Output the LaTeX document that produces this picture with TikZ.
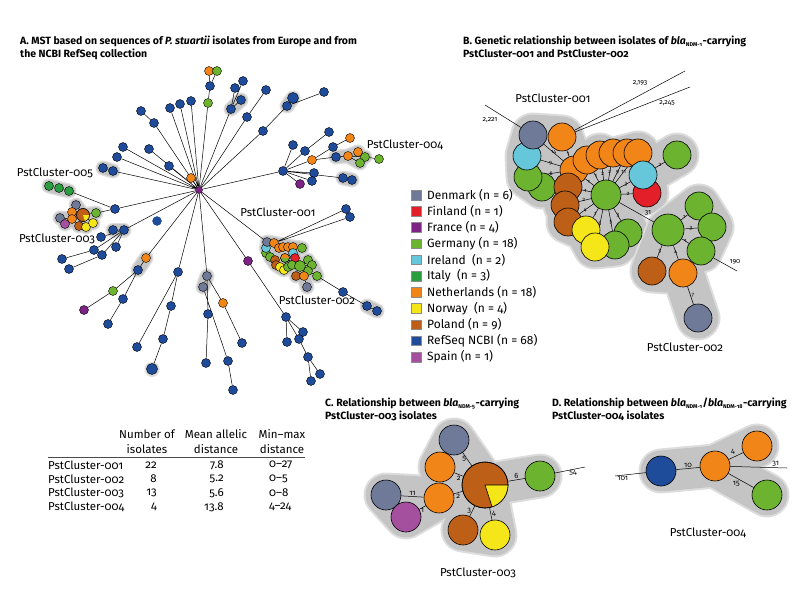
\documentclass[tikz,border=0pt]{standalone}
\usepackage{fontspec}
\setmainfont{Fira Sans}[Numbers=OldStyle]
\newfontfamily\titlefont{Fira Sans}[Numbers=OldStyle]
\usepackage{tikz}
\usetikzlibrary{positioning}

\definecolor{denmark}{HTML}{6F7A98}
\definecolor{finland}{HTML}{E3202A}
\definecolor{france}{HTML}{7D2385}
\definecolor{germany}{HTML}{6CB42F}
\definecolor{ireland}{HTML}{66C7DA}
\definecolor{italy}{HTML}{2A9D3E}
\definecolor{netherlands}{HTML}{F28518}
\definecolor{norway}{HTML}{F5E61A}
\definecolor{poland}{HTML}{BE5F17}
\definecolor{refseq}{HTML}{1F4C9A}
\definecolor{spain}{HTML}{A5509E}
\definecolor{hullgrey}{HTML}{C4C4C4}
\definecolor{rimgrey}{HTML}{DDDDDD}

\pgfdeclarelayer{hulls}
\pgfdeclarelayer{links}
\pgfsetlayers{hulls,links,main}

\newcommand{\blasub}[1]{\textit{bla}\textsubscript{\fontsize{5.5}{5.5}\selectfont #1}}

\begin{document}
\begin{tikzpicture}[x=1pt, y=-1pt,
    dot/.style={circle, draw, line width=0.4pt, inner sep=0pt, minimum size=9pt},
    ball/.style={circle, draw, line width=0.6pt, inner sep=0pt, minimum size=28pt},
    link/.style={line width=0.5pt},
    halo/.style={preaction={draw=rimgrey, line width=15pt, line cap=round, line join=round},
        draw=hullgrey, line width=12pt, line cap=round, line join=round},
    hull/.style={preaction={draw=rimgrey, line width=45pt, line cap=round, line join=round},
        draw=hullgrey, line width=41pt, line cap=round, line join=round},
    lbl/.style={font=\fontsize{11.5}{15}\selectfont, inner sep=1pt},
    ttl/.style={font=\titlefont\bfseries\fontsize{10.5}{12.5}\selectfont, align=left, anchor=north west, inner sep=0pt},
    elab/.style={font=\fontsize{5.5}{5.5}\selectfont, inner sep=0.8pt},
    dlab/.style={font=\fontsize{7}{7}\selectfont, inner sep=0.8pt},
    clab/.style={font=\fontsize{7.5}{8}\selectfont, inner sep=1pt},
    key/.style={draw=black!45, line width=0.4pt, minimum size=9.5pt, inner sep=0pt},
    keytext/.style={font=\fontsize{12}{14}\selectfont, anchor=west, inner sep=0pt}]
\useasboundingbox (0,0) rectangle (800,604);

% ---------------- titles ----------------
\node[ttl] (titleA) at (20,36) {A. MST based on sequences of \textit{P. stuartii} isolates from Europe and from\\the NCBI RefSeq collection};
\node[ttl] (titleB) at (463,36) {B. Genetic relationship between isolates of \blasub{NDM-1}-carrying\\PstCluster-001 and PstCluster-002};
\node[ttl] (titleC) at (325,398) {C. Relationship between \blasub{NDM-5}-carrying\\PstCluster-003 isolates};
\node[ttl] (titleD) at (552,398) {D. Relationship between \blasub{NDM-1}/\blasub{NDM-18}-carrying\\PstCluster-004 isolates};

% ---------------- A: minimum spanning tree ----------------
% hub
\node[dot, fill=france, minimum size=7pt] (hub) at (199,190) {};
% upper branches
\node[dot, fill=germany] (a1) at (208,103) {};
\node[dot, fill=refseq] (a2) at (210,86) {};
\node[dot, fill=netherlands] (a3) at (209,71) {};
\node[dot, fill=germany] (a4) at (217,71) {};
\node[dot, fill=refseq] (b1) at (231,109) {};
\node[dot, fill=refseq] (b2) at (241,100) {};
\node[dot, fill=refseq] (b3) at (235,88) {};
\node[dot, fill=refseq] (b4) at (243,81) {};
\node[dot, fill=refseq] (c1) at (247,117) {};
\node[dot, fill=refseq] (c2) at (266,90) {};
\node[dot, fill=refseq] (d1) at (263,131) {};
\node[dot, fill=refseq] (d2) at (287,106) {};
\node[dot, fill=refseq, minimum size=11pt] (d3) at (293,98) {};
\node[dot, fill=refseq] (d4) at (324,92) {};
\node[dot, fill=refseq] (e1) at (191,101) {};
\node[dot, fill=refseq] (e2) at (180,104) {};
\node[dot, fill=refseq] (e3) at (170,108) {};
\node[dot, fill=refseq] (f1) at (154,123) {};
\node[dot, fill=refseq] (f2) at (141,111) {};
\node[dot, fill=refseq] (g1) at (123,147) {};
\node[dot, fill=refseq] (g2) at (149,149) {};
\node[dot, fill=refseq] (g3) at (117,157) {};
\node[dot, fill=refseq] (g4) at (169,166) {};
\node[dot, fill=netherlands] (g5) at (191,178) {};
\node[dot, fill=refseq] (h1) at (113,171) {};
\node[dot, fill=refseq] (h2) at (103,168) {};
% PstCluster-005
\node[dot, fill=italy] (i1) at (49,186) {};
\node[dot, fill=italy] (i2) at (59,188) {};
\node[dot, fill=italy] (i3) at (69,191) {};
\node[dot, fill=refseq] (j1) at (115,209) {};
% PstCluster-003
\node[dot, fill=denmark] (k1) at (76,205) {};
\node[dot, fill=netherlands] (k2) at (72,212) {};
\node[dot, fill=germany] (k4) at (96,213) {};
\node[dot, fill=denmark] (k5) at (60,218) {};
\node[dot, fill=netherlands] (k6) at (72,219) {};
\node[dot, fill=spain] (k7) at (65,224) {};
\node[dot, fill=poland] (k8) at (79,226) {};
\node[dot, fill=norway] (k9) at (86,227) {};
\node[dot, fill=norway] (k10) at (93,223) {};
\node[dot, fill=poland, minimum size=13pt] (k3) at (83,215) {};
\fill[norway] (k3.center) -- ++(0:6.5) arc[start angle=0, end angle=72, radius=6.5] -- cycle;
\draw[line width=0.4pt] (k3) circle[radius=6.5];
\node[dot, fill=refseq, draw=refseq] (iso) at (157,221) {};
% left-lower branches
\node[dot, fill=refseq] (l1) at (124,230) {};
\node[dot, fill=refseq] (l2) at (113,230) {};
\node[dot, fill=refseq] (l3) at (101,237) {};
\node[dot, fill=refseq] (l4) at (94,250) {};
\node[dot, fill=refseq] (l5) at (102,255) {};
\node[dot, fill=refseq] (l6) at (116,247) {};
\node[dot, fill=refseq] (l7) at (62,259) {};
\node[dot, fill=refseq] (l8) at (69,269) {};
\node[dot, fill=netherlands] (m1) at (146,258) {};
\node[dot, fill=refseq] (m2) at (138,270) {};
\node[dot, fill=germany] (m3) at (113,291) {};
\node[dot, fill=france] (m4) at (84,310) {};
\node[dot, fill=refseq] (m5) at (123,299) {};
\node[dot, fill=refseq] (m6) at (108,324) {};
\node[dot, fill=refseq] (n1) at (178,272) {};
\node[dot, fill=refseq] (n2) at (171,306) {};
\node[dot, fill=refseq] (n3) at (163,339) {};
\node[dot, fill=refseq, minimum size=11pt] (n4) at (152,369) {};
\node[dot, fill=refseq] (n5) at (137,347) {};
\node[dot, fill=denmark] (o1) at (207,276) {};
\node[dot, fill=denmark] (o2) at (203,287) {};
\node[dot, fill=refseq] (o3) at (208,314) {};
\node[dot, fill=refseq] (o4) at (206,363) {};
\node[dot, fill=netherlands] (o5) at (223,303) {};
\node[dot, fill=refseq] (o6) at (242,343) {};
\node[dot, fill=refseq] (o7) at (228,361) {};
\node[dot, fill=refseq] (o8) at (233,390) {};
\node[dot, fill=france] (p1) at (248,261) {};
\node[dot, fill=refseq] (p2) at (286,317) {};
\node[dot, fill=refseq] (p3) at (303,332) {};
\node[dot, fill=refseq] (p4) at (287,342) {};
\node[dot, fill=refseq] (p5) at (299,339) {};
\node[dot, fill=refseq] (p6) at (308,357) {};
\node[dot, fill=refseq] (p7) at (311,381) {};
\node[dot, fill=refseq] (p8) at (320,374) {};
% right branches and PstCluster-004
\node[dot, fill=refseq] (q1) at (283,171) {};
\node[dot, fill=refseq] (q2) at (293,145) {};
\node[dot, fill=refseq] (q3) at (305,151) {};
\node[dot, fill=refseq] (q4) at (329,132) {};
\node[dot, fill=netherlands] (q5) at (312,160) {};
\node[dot, fill=refseq] (q6) at (333,147) {};
\node[dot, fill=netherlands] (q7) at (350,138) {};
\node[dot, fill=refseq] (q8) at (336,157) {};
\node[dot, fill=netherlands] (q9) at (348,156) {};
\node[dot, fill=netherlands] (q10) at (358,152) {};
\node[dot, fill=germany] (q11) at (365,157) {};
\node[dot, fill=germany] (q12) at (360,163) {};
\node[dot, fill=germany] (q13) at (379,159) {};
\node[dot, fill=refseq] (q14) at (314,173) {};
\node[dot, fill=refseq] (q15) at (312,181) {};
\node[dot, fill=france] (q16) at (300,184) {};
\node[dot, fill=refseq] (q17) at (343,178) {};
\node[dot, fill=refseq] (q18) at (352,180) {};
% PstCluster-001
\node[dot, fill=refseq] (s1) at (346,209) {};
\node[dot, fill=refseq] (s2) at (350,217) {};
\node[dot, fill=germany] (r8) at (266,253) {};
\node[dot, fill=germany] (r9) at (270,257) {};
\node[dot, fill=ireland] (r10) at (266,248) {};
\node[dot, fill=denmark] (r1) at (267,242) {};
\node[dot, fill=netherlands] (r2) at (274,243) {};
\node[dot, fill=netherlands] (r3) at (279,248) {};
\node[dot, fill=netherlands] (r4) at (283,247) {};
\node[dot, fill=netherlands] (r5) at (288,247) {};
\node[dot, fill=netherlands] (r6) at (293,247) {};
\node[dot, fill=germany] (r7) at (302,248) {};
\node[dot, fill=ireland] (r11) at (293,253) {};
\node[dot, fill=finland] (r12) at (295,258) {};
\node[dot, fill=poland] (r13) at (275,260) {};
\node[dot, fill=poland] (r14) at (276,265) {};
\node[dot, fill=norway] (r15) at (280,267) {};
\node[dot, fill=norway] (r16) at (284,270) {};
\node[dot, fill=germany] (r17) at (288,267) {};
\node[dot, fill=germany] (r18) at (292,265) {};
\node[dot, fill=germany] (rc) at (285,258) {};
\fill[netherlands] (rc.center) ++(180:4.5) arc[start angle=180, end angle=360, radius=4.5] -- cycle;
\draw[line width=0.4pt] (rc) circle[radius=4.5];
% PstCluster-002
\node[dot, fill=germany] (t2) at (308,260) {};
\node[dot, fill=germany] (t3) at (312,265) {};
\node[dot, fill=germany] (t4) at (308,271) {};
\node[dot, fill=germany, minimum size=11pt] (t1) at (300,266) {};
\node[dot, fill=poland] (t5) at (296,276) {};
\node[dot, fill=netherlands] (t6) at (304,276) {};
\node[dot, fill=denmark] (t7) at (307,287) {};
\node[dot, fill=germany] (t8) at (317,276) {};
\node[dot, fill=refseq] (u1) at (343,292) {};
\node[dot, fill=refseq] (u2) at (367,306) {};
\node[dot, fill=refseq] (u3) at (377,311) {};
% cluster labels
\node[lbl] (lab005) at (55,173) {PstCluster-005};
\node[lbl] (lab003) at (57,239) {PstCluster-003};
\node[lbl] (lab001) at (278,212) {PstCluster-001};
\node[lbl] (lab002) at (317,300) {PstCluster-002};
\node[lbl] (lab004) at (405,145) {PstCluster-004};

\begin{pgfonlayer}{hulls}
    \draw[halo] (b1.center) -- (b2.center);
    \draw[halo] (d2.center) -- (d3.center);
    \draw[halo] (h1.center) -- (h2.center);
    \draw[halo] (i1.center) -- (i3.center);
    \draw[halo] (k5.center) -- (k6.center) -- (k3.center) -- (k4.center)
        (k1.center) -- (k3.center) -- (k9.center) (k7.center) -- (k6.center) -- (k8.center) -- (k10.center);
    \draw[halo] (l1.center) -- (l2.center);
    \draw[halo] (m1.center) -- (m2.center);
    \draw[halo] (n4.center) -- ++(0.1,0);
    \draw[halo] (o1.center) -- (o2.center);
    \draw[halo] (q8.center) -- (q9.center) -- (q10.center) (q9.center) -- (q11.center) (q9.center) -- (q12.center);
    \draw[halo] (q17.center) -- (q18.center);
    \draw[halo] (u2.center) -- (u3.center);
    \draw[halo] (r1.center) -- (r2.center) -- (r6.center) -- (r7.center)
        (r1.center) -- (r9.center) -- (r14.center) -- (r16.center) -- (r18.center) -- (r12.center) -- (r6.center)
        (r3.center) -- (rc.center) -- (r15.center) (r10.center) -- (rc.center)
        (t2.center) -- (t1.center) -- (t5.center) (t1.center) -- (t3.center) -- (t8.center) (t1.center) -- (t6.center) -- (t7.center);
\end{pgfonlayer}

\begin{pgfonlayer}{links}
    \draw[link] (hub) -- (a1) (a1) -- (a2) (a2) -- (a3) (a2) -- (a4);
    \draw[link] (hub) -- (b1) (b1) -- (b2) (b1) -- (b3) (b1) -- (b4);
    \draw[link] (hub) -- (c1) (c1) -- (c2);
    \draw[link] (hub) -- (d1) (d1) -- (d2) (d2) -- (d3) (d2) -- (d4);
    \draw[link] (hub) -- (e1) (hub) -- (e2) (hub) -- (e3);
    \draw[link] (hub) -- (f1) (f1) -- (f2);
    \draw[link] (hub) -- (g1) (hub) -- (g2) (hub) -- (g3) (hub) -- (g4) (hub) -- (g5);
    \draw[link] (hub) -- (h1) (h1) -- (h2);
    \draw[link] (hub) -- (j1) (j1) -- (i3) (i3) -- (i2) (i2) -- (i1) (j1) -- (k4);
    \draw[link] (k3) -- (k1) (k3) -- (k2) (k3) -- (k4) (k3) -- (k6) (k3) -- (k8) (k3) -- (k9) (k3) -- (k10)
        (k6) -- (k5) (k6) -- (k7);
    \draw[link] (hub) -- (l1) (l1) -- (l2) (l1) -- (l3) (l1) -- (l4) (l1) -- (l5) (l1) -- (l6)
        (l4) -- (l7) (l5) -- (l8);
    \draw[link] (hub) -- (m1) (m1) -- (m2) (m2) -- (m3) (m3) -- (m4) (m2) -- (m5) (m5) -- (m6);
    \draw[link] (hub) -- (n1) (n1) -- (n2) (n2) -- (n3) (n3) -- (n4) (n1) -- (n5);
    \draw[link] (hub) -- (o1) (o1) -- (o2) (o1) -- (o3) (o3) -- (o4) (o1) -- (o5) (o5) -- (o6)
        (o2) -- (o7) (o7) -- (o8);
    \draw[link] (hub) -- (p1) (p1) -- (p2) (p2) -- (p3) (p2) -- (p4) (p2) -- (p5) (p5) -- (p6)
        (p6) -- (p7) (p6) -- (p8);
    \draw[link] (hub) -- (q1) (q1) -- (q2) (q1) -- (q3) (q3) -- (q4) (q1) -- (q5) (q5) -- (q6)
        (q6) -- (q7) (q5) -- (q8) (q8) -- (q9) (q9) -- (q10) (q9) -- (q11) (q9) -- (q12)
        (q11) -- (q13) (q1) -- (q14) (q1) -- (q15) (q1) -- (q16) (q1) -- (q17) (q17) -- (q18);
    \draw[link] (hub) -- (r1) (r2) -- (s1) (r2) -- (s2);
    \draw[link] (rc) -- (t1) (t1) -- (t2) (t1) -- (t3) (t1) -- (t4) (t1) -- (t5) (t1) -- (t6)
        (t6) -- (t7) (t4) -- (t8) (t8) -- (u1) (u1) -- (u2) (u2) -- (u3);
\end{pgfonlayer}

% ---------------- legend ----------------
\node[key, fill=denmark] (kden) at (416,195) {};
\node[keytext, right=6pt of kden] (tden) {Denmark (n = 6)};
\node[key, fill=finland] (kfin) at (416,211.2) {};
\node[keytext, right=6pt of kfin] (tfin) {Finland (n = 1)};
\node[key, fill=france] (kfra) at (416,227.4) {};
\node[keytext, right=6pt of kfra] (tfra) {France (n = 4)};
\node[key, fill=germany] (kger) at (416,243.6) {};
\node[keytext, right=6pt of kger] (tger) {Germany (n = 18)};
\node[key, fill=ireland] (kire) at (416,259.8) {};
\node[keytext, right=6pt of kire] (tire) {Ireland\ \ (n = 2)};
\node[key, fill=italy] (kita) at (416,276) {};
\node[keytext, right=6pt of kita] (tita) {Italy\ \ (n = 3)};
\node[key, fill=netherlands] (knet) at (416,292.2) {};
\node[keytext, right=6pt of knet] (tnet) {Netherlands (n = 18)};
\node[key, fill=norway] (knor) at (416,308.4) {};
\node[keytext, right=6pt of knor] (tnor) {Norway\ \ (n = 4)};
\node[key, fill=poland] (kpol) at (416,324.6) {};
\node[keytext, right=6pt of kpol] (tpol) {Poland (n = 9)};
\node[key, fill=refseq] (kref) at (416,340.8) {};
\node[keytext, right=6pt of kref] (tref) {RefSeq NCBI (n = 68)};
\node[key, fill=spain] (kspa) at (416,357) {};
\node[keytext, right=6pt of kspa] (tspa) {Spain (n = 1)};

% ---------------- B: PstCluster-001 and -002 ----------------
\node[ball, fill=germany] (bg2) at (542,187) {};
\node[ball, fill=germany] (bg1) at (528,177) {};
\node[ball, fill=ireland] (bl1) at (527,156) {};
\node[ball, fill=denmark] (bgr) at (533,135) {};
\node[ball, fill=netherlands] (bo1) at (562,137) {};
\node[ball, fill=netherlands] (bo2) at (574,170) {};
\node[ball, fill=netherlands] (bo3) at (587,160) {};
\node[ball, fill=netherlands] (bo4) at (600,155) {};
\node[ball, fill=netherlands] (bo5) at (613,153) {};
\node[ball, fill=netherlands] (bo6) at (627,153) {};
\node[ball, fill=netherlands] (bo7) at (638,153) {};
\node[ball, fill=finland] (bred) at (647,193) {};
\node[ball, fill=ireland] (bl2) at (643,175) {};
\node[ball, fill=germany] (bfar) at (677,155) {};
\node[ball, fill=poland] (bb1) at (568,187) {};
\node[ball, fill=poland] (bb2) at (565,205) {};
\node[ball, fill=poland] (bb3) at (568,222) {};
\node[ball, fill=germany] (bg4) at (628,233) {};
\node[ball, fill=norway] (by1) at (586,230) {};
\node[ball, fill=germany] (bg3) at (615,245) {};
\node[ball, fill=norway] (by2) at (595,247) {};
\node[ball, fill=germany, minimum size=30pt] (bc) at (606,195) {};
% PstCluster-002
\node[ball, fill=germany, minimum size=32pt] (bk) at (668,230) {};
\node[ball, fill=germany] (bk1) at (699,206) {};
\node[ball, fill=germany] (bk2) at (712,227) {};
\node[ball, fill=germany] (bk3) at (701,251) {};
\node[ball, fill=poland] (bkb) at (652,271) {};
\node[ball, fill=netherlands] (bko) at (683,273) {};
\node[ball, fill=denmark] (bkg) at (698,318) {};
% loose ends
\coordinate (bx1) at (485,105);
\coordinate (bx2) at (685,71);
\coordinate (bx3) at (690,87);
\coordinate (bx4) at (737,271);
\node[dlab] (d2221) at (490,120) {2,221};
\node[dlab] (d2193) at (640,83) {2,193};
\node[dlab] (d2245) at (667,103) {2,245};
\node[dlab] (d190) at (735,262) {190};
\node[dlab] (d31) at (648,213) {31};
\node[lbl] (labB1) at (553,98) {PstCluster-001};
\node[lbl] (labB2) at (685,347) {PstCluster-002};

\begin{pgfonlayer}{hulls}
    \draw[hull] (bgr.center) -- (bo1.center) -- (bo2.center) -- (bgr.center) -- (bl1.center) -- (bg1.center) -- (bg2.center) -- (bo2.center)
        (bo2.center) -- (bo7.center) -- (bl2.center) -- (bfar.center) (bl2.center) -- (bred.center) -- (bc.center)
        (bo2.center) -- (bb1.center) -- (bb3.center) -- (by1.center) -- (by2.center) -- (bg3.center) -- (bg4.center) -- (bc.center)
        (bc.center) -- (bb2.center) (bc.center) -- (by2.center) (bc.center) -- (bo4.center) (bc.center) -- (bo2.center);
    \draw[hull] (bk.center) -- (bk1.center) -- (bk2.center) -- (bk3.center) -- (bk.center) -- (bkb.center) -- (bko.center) -- (bk.center)
        (bko.center) -- (bkg.center);
\end{pgfonlayer}

\begin{pgfonlayer}{links}
    \draw[link] (bgr) -- (bx1) (bo1) -- (bx2) (bo1) -- (bx3) (bk3) -- (bx4) (bc) -- (bk);
    \draw[link] (bc) -- node[elab, pos=.6] {1} (bb1);
    \draw[link] (bc) -- node[elab, pos=.6] {2} (bb2);
    \draw[link] (bc) -- node[elab, pos=.6] {4} (bb3);
    \draw[link] (bc) -- node[elab, pos=.6] {1} (by1);
    \draw[link] (bc) -- node[elab, pos=.6] {6} (by2);
    \draw[link] (bc) -- node[elab, pos=.6] {5} (bg3);
    \draw[link] (bc) -- node[elab, pos=.6] {3} (bg4);
    \draw[link] (bc) -- node[elab, pos=.6] {2} (bred);
    \draw[link] (bc) -- node[elab, pos=.6] {3} (bl2);
    \draw[link] (bc) -- node[elab, pos=.6] {1} (bo2);
    \draw[link] (bc) -- node[elab, pos=.6] {1} (bo3);
    \draw[link] (bc) -- node[elab, pos=.6] {2} (bo4);
    \draw[link] (bc) -- node[elab, pos=.6] {2} (bo5);
    \draw[link] (bc) -- node[elab, pos=.6] {9} (bo6);
    \draw[link] (bc) -- node[elab, pos=.6] {11} (bo7);
    \draw[link] (bo2) -- node[elab, pos=.5] {14} (bgr);
    \draw[link] (bo2) -- node[elab, pos=.5] {9} (bl1);
    \draw[link] (bo2) -- node[elab, pos=.5] {6} (bg1);
    \draw[link] (bo2) -- node[elab, pos=.5] {1} (bo1);
    \draw[link] (bl2) -- node[elab, pos=.5] {2} (bfar);
    \draw[link] (bk) -- node[elab, pos=.5] {1} (bk1);
    \draw[link] (bk) -- node[elab, pos=.5] {3} (bk2);
    \draw[link] (bk) -- node[elab, pos=.5] {1} (bk3);
    \draw[link] (bk) -- node[elab, pos=.5] {3} (bkb);
    \draw[link] (bk) -- node[elab, pos=.5] {4} (bko);
    \draw[link] (bko) -- node[elab, pos=.5, right] {7} (bkg);
\end{pgfonlayer}

% ---------------- C: PstCluster-003 ----------------
\node[ball, fill=denmark, minimum size=30pt] (cg1) at (454,440) {};
\node[ball, fill=netherlands, minimum size=30pt] (co1) at (440,467) {};
\node[ball, fill=germany, minimum size=30pt] (cgr) at (540,476) {};
\node[ball, fill=denmark, minimum size=30pt] (cg2) at (386,495) {};
\node[ball, fill=spain, minimum size=30pt] (cp) at (406,517) {};
\node[ball, fill=netherlands, minimum size=30pt] (co2) at (439,498) {};
\node[ball, fill=poland, minimum size=30pt] (cb2) at (463,530) {};
\node[ball, fill=norway, minimum size=30pt] (cy) at (495,535) {};
\node[ball, fill=poland, minimum size=46pt] (cb) at (485,485) {};
\fill[norway] (cb.center) -- ++(0:23) arc[start angle=0, end angle=72, radius=23] -- cycle;
\draw[line width=0.6pt] (cb.center) -- ++(0:23) (cb.center) -- ++(72:23) (cb) circle[radius=23];
\coordinate (cx) at (585,467);
\node[lbl] (labC) at (478,573) {PstCluster-003};

\begin{pgfonlayer}{hulls}
    \draw[hull] (cg1.center) -- (cb.center) -- (cgr.center) (co1.center) -- (cb.center) -- (cb2.center) -- (cy.center) -- (cb.center)
        (cg2.center) -- (co2.center) -- (cb.center) (cp.center) -- (co2.center) (cg2.center) -- (cp.center) (co1.center) -- (cg1.center);
\end{pgfonlayer}

\begin{pgfonlayer}{links}
    \draw[link] (cb) -- node[clab, pos=.5, left] {5} (cg1);
    \draw[link] (cb) -- node[clab, pos=.5, below] {2} (co1);
    \draw[link] (cb) -- node[clab, pos=.5, below] {2} (co2);
    \draw[link] (cb) -- node[clab, pos=.5, left] {3} (cb2);
    \draw[link] (cb) -- node[clab, pos=.5, right] {4} (cy);
    \draw[link] (cb) -- node[clab, pos=.5, above] {6} (cgr);
    \draw[link] (co2) -- node[clab, pos=.5, above] {11} (cg2);
    \draw[link] (co2) -- node[clab, pos=.5, below] {1} (cp);
    \draw[link] (cgr) -- node[clab, pos=.6, below] {54} (cx);
\end{pgfonlayer}

% ---------------- D: PstCluster-004 ----------------
\node[ball, fill=refseq, minimum size=30pt] (db) at (661,471) {};
\node[ball, fill=netherlands, minimum size=30pt] (dc) at (715,466) {};
\node[ball, fill=netherlands, minimum size=30pt] (do) at (757,446) {};
\node[ball, fill=germany, minimum size=30pt] (dg) at (767,495) {};
\coordinate (dx1) at (615,476);
\coordinate (dx2) at (787,468);
\node[lbl] (labD) at (708,533) {PstCluster-004};

\begin{pgfonlayer}{hulls}
    \draw[hull] (db.center) -- (dc.center) -- (do.center) (dc.center) -- (dg.center);
\end{pgfonlayer}

\begin{pgfonlayer}{links}
    \draw[link] (db) -- node[clab, pos=.5, above] {10} (dc);
    \draw[link] (dc) -- node[clab, pos=.5, above left] {4} (do);
    \draw[link] (dc) -- node[clab, pos=.5, below left] {15} (dg);
    \draw[link] (db) -- node[clab, pos=.75, below] {101} (dx1);
    \draw[link] (dc) -- node[clab, pos=.8, above] {31} (dx2);
\end{pgfonlayer}

% ---------------- table ----------------
\node[lbl, align=center] (hnum) at (147,442) {Number of\\isolates};
\node[lbl, align=center] (hmean) at (216,442) {Mean allelic\\distance};
\node[lbl, align=center] (hmin) at (282,442) {Min--max\\distance};
\coordinate (rulel) at (48,457);
\coordinate (ruler) at (305,457);
\draw[line width=0.6pt, black!70] (rulel) -- (ruler);
\node[lbl, anchor=west] (row1) at (47,465) {PstCluster-001};
\node[lbl, anchor=west] (row2) at (47,479) {PstCluster-002};
\node[lbl, anchor=west] (row3) at (47,493) {PstCluster-003};
\node[lbl, anchor=west] (row4) at (47,507) {PstCluster-004};
\node[lbl, anchor=east] (num1) at (158,465) {22};
\node[lbl, anchor=east] (num2) at (158,479) {8};
\node[lbl, anchor=east] (num3) at (158,493) {13};
\node[lbl, anchor=east] (num4) at (158,507) {4};
\node[lbl, anchor=east] (mean1) at (225,465) {7.8};
\node[lbl, anchor=east] (mean2) at (225,479) {5.2};
\node[lbl, anchor=east] (mean3) at (225,493) {5.6};
\node[lbl, anchor=east] (mean4) at (225,507) {13.8};
\node[lbl, anchor=west] (min1) at (268,465) {0--27};
\node[lbl, anchor=west] (min2) at (268,479) {0--5};
\node[lbl, anchor=west] (min3) at (268,493) {0--8};
\node[lbl, anchor=west] (min4) at (268,507) {4--24};
\end{tikzpicture}
\end{document}
